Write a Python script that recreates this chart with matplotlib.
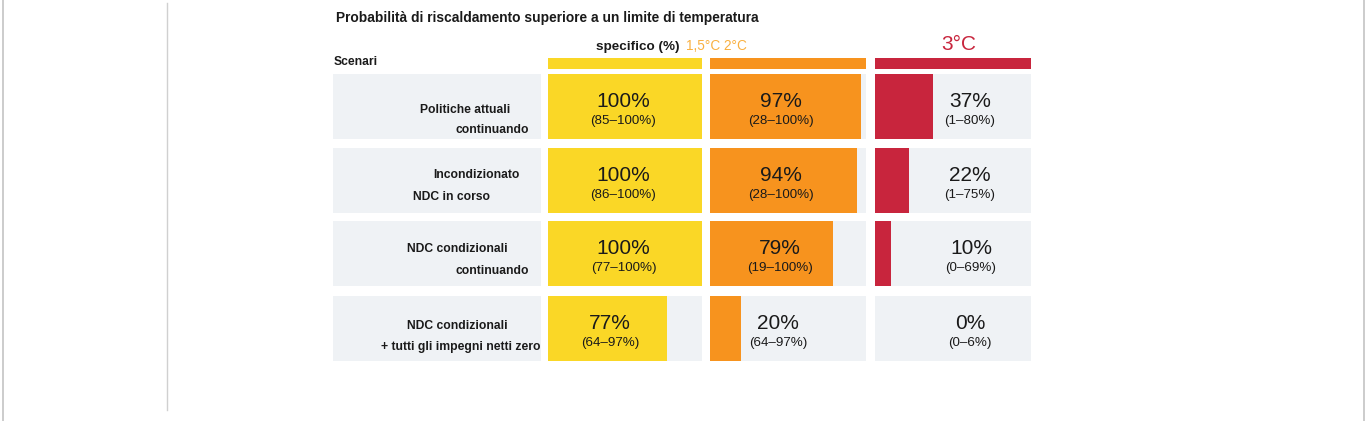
import matplotlib
matplotlib.use("Agg")
import matplotlib.pyplot as plt

plt.rcParams['font.family'] = ['Liberation Sans', 'DejaVu Sans']

# ---------------- data ----------------
title = "Probabilità di riscaldamento superiore a un limite di temperatura"
scenario_lines = [
    ["Politiche attuali", "continuando"],
    ["Incondizionato", "NDC in corso"],
    ["NDC condizionali", "continuando"],
    ["NDC condizionali", "+ tutti gli impegni netti zero"],
]
thresholds = ["1,5°C", "2°C", "3°C"]
p15 = [100, 100, 100, 77]
p20 = [97, 94, 79, 20]
p30 = [37, 22, 10, 0]
r15 = ["(85–100%)", "(86–100%)", "(77–100%)", "(64–97%)"]
r20 = ["(28–100%)", "(28–100%)", "(19–100%)", "(64–97%)"]
r30 = ["(1–80%)", "(1–75%)", "(0–69%)", "(0–6%)"]

# ---------------- layout ----------------
W, H = 1365, 421
YELLOW = "#FAD726"
ORANGE = "#F7931E"
RED = "#C8253D"
GREY = "#EFF2F5"
TXT = "#1a1a1a"

fig = plt.figure(figsize=(W / 100, H / 100), dpi=100)
bg = fig.add_axes([0, 0, 1, 1])
bg.set_xlim(0, W)
bg.set_ylim(H, 0)
bg.axis("off")

# frame lines
bg.plot([2.5, 2.5], [0, H], color="#c4c4c4", lw=1.2)
bg.plot([167, 167], [3, 410], color="#d0d0d0", lw=1.0)
bg.plot([1363.5, 1363.5], [0, H], color="#c4c4c4", lw=1.2)

row_tops = [74, 148, 221, 296]
row_h = 65
head_top, head_h = 58, 11.5
y_top, y_bot = 58, 361

# label column background
bg.barh(row_tops, [541 - 333] * 4, left=333, height=row_h, align="edge",
        color=GREY, linewidth=0)

# columns
col_x0 = [548, 710, 875]
col_w = [154, 156, 156]
col_colors = [YELLOW, ORANGE, RED]
values = [p15, p20, p30]
ranges = [r15, r20, r30]
text_x = [[623.5, 623.5, 623.5, 610], [781, 781, 780, 778], [970, 970, 971, 970]]

for c in range(3):
    ax = fig.add_axes([col_x0[c] / W, 1 - y_bot / H, col_w[c] / W, (y_bot - y_top) / H])
    ax.set_xlim(0, 100)
    ax.set_ylim(y_bot, y_top)
    ax.axis("off")
    ax.barh(row_tops, [100] * 4, height=row_h, align="edge", color=GREY, linewidth=0)
    ax.barh(row_tops, values[c], height=row_h, align="edge", color=col_colors[c], linewidth=0)
    ax.barh([head_top], [100], height=head_h, align="edge", color=col_colors[c], linewidth=0)

# overlay for all text
ov = fig.add_axes([0, 0, 1, 1])
ov.set_xlim(0, W)
ov.set_ylim(H, 0)
ov.axis("off")
ov.patch.set_alpha(0)

label_x = [[420, 455], [433, 413], [407, 455], [407, 381]]
label_base = [[113, 133], [178, 200], [252, 274], [329, 350]]
for i, lines in enumerate(scenario_lines):
    for j, t in enumerate(lines):
        ov.text(label_x[i][j], label_base[i][j], t, fontsize=8.7,
                fontweight="bold", color=TXT, ha="left", va="baseline")

for c in range(3):
    for i in range(4):
        ov.text(text_x[c][i], row_tops[i] + 33, f"{values[c][i]}%", fontsize=15,
                color=TXT, ha="center", va="baseline")
        ov.text(text_x[c][i], row_tops[i] + 50, ranges[c][i], fontsize=9.6,
                color=TXT, ha="center", va="baseline")

ov.text(336, 22, title, fontsize=9.9, fontweight="bold", color=TXT, ha="left", va="baseline")
ov.text(334, 65, "Scenari", fontsize=8.7, fontweight="bold", color=TXT, ha="left", va="baseline")
ov.text(596, 50, "specifico (%)", fontsize=9.7, fontweight="bold", color=TXT, ha="left", va="baseline")
ov.text(686, 50, f"{thresholds[0]} {thresholds[1]}", fontsize=9.8, color="#F9B040",
        ha="left", va="baseline")
ov.text(959, 50, thresholds[2], fontsize=15, color=RED, ha="center", va="baseline")

fig.savefig("out.png", dpi=100, facecolor="white")
